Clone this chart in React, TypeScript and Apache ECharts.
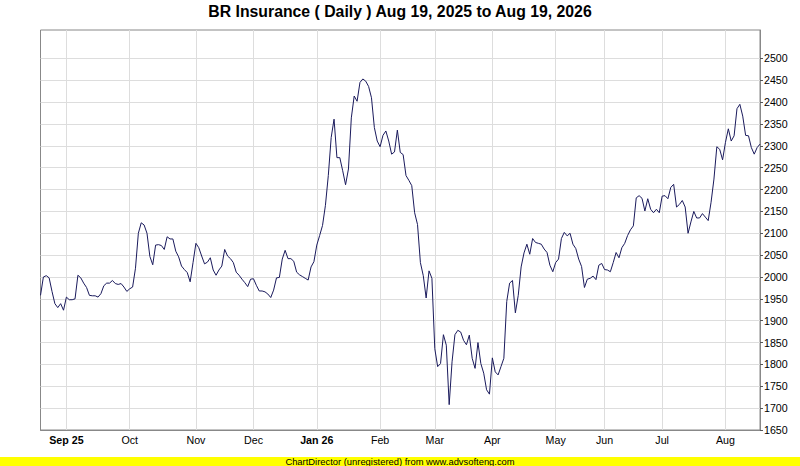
import React, { useEffect, useRef } from "react";
import * as echarts from "echarts";

const chartTitle = "BR Insurance ( Daily ) Aug 19, 2025 to Aug 19, 2026";
const footerText = "ChartDirector (unregistered) from www.advsofteng.com";

// first label of each month chunk ("" = no label at chart start)
const monthLabels = ["", "Sep 25", "Oct", "Nov", "Dec", "Jan 26", "Feb", "Mar", "Apr", "May", "Jun", "Jul", "Aug"];

const aug25 = [1958, 2000, 2003, 1998, 1967, 1939, 1930, 1939, 1924];
const sep25 = [1954, 1948, 1948, 1950, 2004, 1998, 1986, 1976, 1958, 1957, 1957, 1954, 1962, 1980, 1986, 1986, 1992, 1985, 1983, 1985, 1977, 1967];
const oct25 = [1973, 1977, 2020, 2100, 2124, 2119, 2100, 2047, 2028, 2073, 2074, 2072, 2063, 2092, 2087, 2087, 2059, 2046, 2025, 2017, 2010, 1989, 2033];
const nov25 = [2077, 2067, 2048, 2030, 2034, 2044, 2016, 2004, 2016, 2025, 2063, 2048, 2042, 2033, 2011, 2004, 1995, 1987, 1978, 1995];
const dec25 = [1996, 1981, 1968, 1968, 1966, 1961, 1953, 1970, 1998, 1999, 2041, 2061, 2042, 2042, 2036, 2011, 2005, 2001, 1997, 1993, 2023, 2035];
const jan26 = [2073, 2095, 2118, 2164, 2232, 2319, 2361, 2273, 2273, 2243, 2211, 2247, 2364, 2414, 2402, 2445, 2453, 2448, 2436, 2410, 2342, 2311];
const feb26 = [2298, 2324, 2334, 2311, 2281, 2286, 2336, 2285, 2280, 2232, 2221, 2209, 2147, 2120, 2033, 2003, 1952, 2014, 1997];
const mar26 = [1836, 1795, 1802, 1868, 1844, 1708, 1806, 1868, 1878, 1874, 1855, 1845, 1867, 1814, 1791, 1850, 1802, 1780, 1742, 1732];
const apr26 = [1815, 1783, 1776, 1795, 1814, 1944, 1986, 1992, 1918, 1958, 2023, 2055, 2075, 2052, 2088, 2079, 2077, 2075, 2064, 2056, 2027, 2012];
const may26 = [2033, 2041, 2088, 2102, 2094, 2100, 2075, 2065, 2041, 2024, 1976, 1995, 1997, 2002, 1994, 2027, 2031];
const jun26 = [2017, 2016, 2012, 2033, 2056, 2044, 2067, 2077, 2095, 2108, 2117, 2181, 2186, 2180, 2151, 2179, 2155, 2147, 2155, 2147];
const jul26 = [2185, 2186, 2179, 2205, 2212, 2160, 2166, 2175, 2160, 2100, 2126, 2150, 2135, 2135, 2145, 2137, 2129, 2171, 2224, 2298, 2292, 2268];
const aug26 = [2308, 2339, 2311, 2323, 2385, 2395, 2368, 2324, 2323, 2296, 2281, 2296, 2304];

const monthValues = [aug25, sep25, oct25, nov25, dec25, jan26, feb26, mar26, apr26, may26, jun26, jul26, aug26];

const yTicks = [1650, 1700, 1750, 1800, 1850, 1900, 1950, 2000, 2050, 2100, 2150, 2200, 2250, 2300, 2350, 2400, 2450, 2500];
const yMin = 1650;
const yMax = 2565;

const FONT = "Liberation Sans";

export default function App() {
  const ref = useRef<HTMLDivElement>(null);

  useEffect(() => {
    document.body.style.margin = "0";
    const chart = echarts.init(ref.current as HTMLDivElement, null, { renderer: "svg" });

    const values: number[] = [];
    const labels: string[] = [];
    monthValues.forEach((arr, k) => {
      arr.forEach((v, j) => {
        values.push(v);
        labels.push(j === 0 ? monthLabels[k] : "");
      });
    });
    const cats = labels.map((_, i) => String(i));
    const isMonthStart = (i: number) => labels[i] !== "";

    chart.setOption({
      animation: false,
      backgroundColor: "#ffffff",
      title: {
        text: chartTitle,
        left: "center",
        top: 3,
        padding: 0,
        textStyle: { fontFamily: FONT, fontWeight: "bold", fontSize: 15.8, color: "#000000" },
      },
      grid: {
        left: 40.5,
        right: 40,
        top: 30,
        bottom: 36,
        show: true,
        borderColor: "#888888",
        borderWidth: 1,
        backgroundColor: "#ffffff",
      },
      xAxis: {
        type: "category",
        data: cats,
        boundaryGap: false,
        axisLine: { show: true, lineStyle: { color: "#888888", width: 1 } },
        axisTick: { show: false },
        axisLabel: {
          interval: (i: number) => isMonthStart(i),
          margin: 4,
          color: "#000000",
          fontFamily: FONT,
          fontSize: 10.67,
          formatter: (v: string) => {
            const lab = labels[Number(v)];
            return lab.indexOf(" ") >= 0 ? "{b|" + lab + "}" : "{n|" + lab + "}";
          },
          rich: {
            b: { fontFamily: FONT, fontSize: 10.67, fontWeight: "bold", color: "#000000" },
            n: { fontFamily: FONT, fontSize: 10.67, color: "#000000" },
          },
        },
        splitLine: {
          show: true,
          interval: (i: number) => isMonthStart(i),
          lineStyle: { color: "#dddddd", width: 1 },
        },
      },
      yAxis: {
        type: "value",
        position: "right",
        min: yMin,
        max: yMax,
        axisLine: { show: true, lineStyle: { color: "#888888", width: 1 } },
        axisTick: { show: true, length: 3, customValues: yTicks, lineStyle: { color: "#555555" } },
        axisLabel: {
          customValues: yTicks,
          margin: 4,
          color: "#000000",
          fontFamily: FONT,
          fontSize: 10.67,
          formatter: (v: number) => String(v),
        },
        splitLine: { show: true, lineStyle: { color: "#dddddd", width: 1 } },
      },
      series: [
        {
          type: "line",
          data: values,
          showSymbol: false,
          symbol: "none",
          silent: true,
          lineStyle: { color: "#1a1a5c", width: 1 },
        },
      ],
      graphic: [
        {
          type: "rect",
          shape: { x: 0, y: 457, width: 800, height: 9 },
          style: { fill: "#ffff00" },
        },
        {
          type: "text",
          x: 400,
          y: 461.5,
          style: {
            text: footerText,
            fill: "#000000",
            font: "9.4px " + FONT,
            textAlign: "center",
            textVerticalAlign: "middle",
          },
        },
      ],
    });

    return () => chart.dispose();
  }, []);

  return <div ref={ref} style={{ position: "fixed", left: 0, top: 0, width: 800, height: 466 }} />;
}
